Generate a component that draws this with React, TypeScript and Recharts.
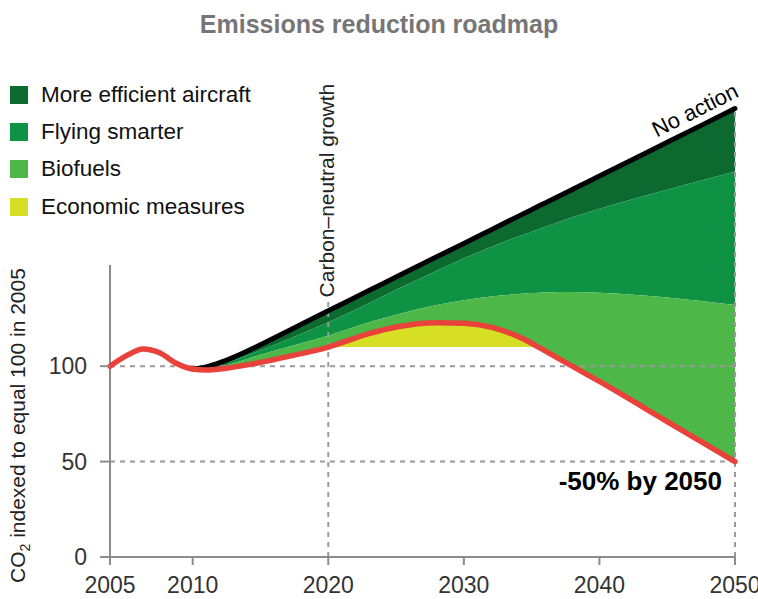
import {
  ComposedChart,
  Area,
  Line,
  XAxis,
  YAxis,
  ReferenceLine,
  ReferenceDot,
  Legend,
} from 'recharts';

const FONT = '"Liberation Sans", Arial, Helvetica, sans-serif';

// sample years (uneven on purpose: more points where the curves bend)
const years = [
  2005, 2006, 2007, 2008, 2009, 2010, 2011, 2012, 2013, 2015, 2017, 2020, 2023, 2025,
  2028, 2030, 2032, 2034, 2035, 2035.5, 2036, 2037, 2038, 2040, 2045, 2050,
];

// red line: emissions path with all measures
const target = [
  100, 105.5, 109, 107, 101.5, 98.5, 98, 98.5, 99.5, 102, 105, 110, 117, 120.5,
  122.8, 122.5, 120.5, 115.5, 112, 110, 108, 104, 100, 92, 71, 50,
];

// black line: no action
const noAction = [
  null, null, null, null, null, 98.5, 99.6, 101.8, 104.6, 111.2, 118.3, 129, 139.6, 146.7,
  157.3, 164.3, 171.4, 178.5, 182, 183.8, 185.5, 189, 192.6, 199.6, 217.3, 235,
];

// lower edge of the "more efficient aircraft" wedge
const aircraftEdge = [
  null, null, null, null, null, 98.5, 99.2, 100.8, 103, 108.3, 114, 123, 133, 140,
  150, 156.5, 162.5, 168, 170.5, 171.8, 173, 175.5, 178, 182.5, 192.5, 202,
];

// lower edge of the "flying smarter" wedge
const smarterEdge = [
  null, null, null, null, null, 98.5, 98.5, 99.5, 101.5, 106, 110, 116, 123, 127,
  132, 134.5, 136.5, 137.8, 138.3, 138.5, 138.6, 138.8, 138.8, 138.5, 136, 132,
];

// economic measures sit on a flat floor from 2020 until the red line drops below it
const economicFloor = [
  null, null, null, null, null, null, null, null, null, null, null, 110, 110, 110,
  110, 110, 110, 110, 110, 110, null, null, null, null, null, null,
];

const xTicks = [2005, 2010, 2020, 2030, 2040, 2050];
const yTicks = [0, 50, 100];

const keyNames = ['More efficient aircraft', 'Flying smarter', 'Biofuels', 'Economic measures'];
const keyColors = ['#0c6a30', '#0e9344', '#4db848', '#d6df24'];

const rows = years.map((year, i) => ({
  year,
  target: target[i],
  noAction: noAction[i],
  aircraft: noAction[i] == null ? null : [aircraftEdge[i], noAction[i]],
  smarter: aircraftEdge[i] == null ? null : [smarterEdge[i], aircraftEdge[i]],
  biofuels: smarterEdge[i] == null ? null : [target[i], smarterEdge[i]],
  economic: economicFloor[i] == null ? null : [economicFloor[i], target[i]],
}));

// Time axis where 2005-2010 gets a wider slot than the later decades.
const EARLY_END = 2010;
const EARLY_SHARE = 0.1323;

function makeTimeScale(dom: number[] = [2005, 2050], rng: number[] = [0, 1]): any {
  const scale: any = (v: number) => {
    const [d0, d1] = dom;
    const [r0, r1] = rng;
    const rk = r0 + (r1 - r0) * EARLY_SHARE;
    if (v <= EARLY_END) return r0 + ((v - d0) / (EARLY_END - d0)) * (rk - r0);
    return rk + ((v - EARLY_END) / (d1 - EARLY_END)) * (r1 - rk);
  };
  scale.domain = (d?: any[]) => {
    if (d === undefined) return dom.slice();
    dom = [Number(d[0]), Number(d[d.length - 1])];
    return scale;
  };
  scale.range = (r?: number[]) => {
    if (r === undefined) return rng.slice();
    rng = [r[0], r[r.length - 1]];
    return scale;
  };
  scale.copy = () => makeTimeScale(dom.slice(), rng.slice());
  scale.ticks = () => xTicks;
  scale.tickFormat = () => (v: number) => String(v);
  return scale;
}

const timeScale = makeTimeScale();

function KeyList() {
  return (
    <div style={{ fontFamily: FONT, fontSize: 22.5, color: '#111' }}>
      {keyNames.map((name, i) => (
        <div key={name} style={{ display: 'flex', alignItems: 'center', height: 37.3 }}>
          <span style={{ width: 18, height: 18, background: keyColors[i], marginRight: 13, display: 'inline-block' }} />
          <span>{name}</span>
        </div>
      ))}
    </div>
  );
}

function NoActionText(props: any) {
  const { x, y } = props.viewBox;
  return (
    <text
      x={x}
      y={y}
      dy={-9}
      transform={`rotate(-26.5 ${x} ${y})`}
      textAnchor="middle"
      fontSize={22}
      fontFamily={FONT}
      fill="#000"
    >
      No action
    </text>
  );
}

function NeutralText(props: any) {
  const { x, y } = props.viewBox;
  const tx = x + 6;
  const ty = y - 2;
  return (
    <text x={tx} y={ty} transform={`rotate(-90 ${tx} ${ty})`} fontSize={21} fontFamily={FONT} fill="#222">
      Carbon–neutral growth
    </text>
  );
}

function HalvingText(props: any) {
  const { x, y } = props.viewBox;
  return (
    <text x={x - 13} y={y + 28} textAnchor="end" fontSize={26} fontWeight={700} fontFamily={FONT} fill="#000">
      -50% by 2050
    </text>
  );
}

function YTitle(props: any) {
  const { viewBox } = props;
  const tx = 25;
  const ty = viewBox.y + viewBox.height + 26;
  return (
    <text x={tx} y={ty} transform={`rotate(-90 ${tx} ${ty})`} fontSize={21} fontFamily={FONT} fill="#222">
      CO<tspan fontSize={14} dy={5}>2</tspan>
      <tspan dy={-5}> indexed to equal 100 in 2005</tspan>
    </text>
  );
}

export default function App() {
  return (
    <div style={{ position: 'absolute', left: 0, top: 0, width: 758, height: 599, background: '#fff' }}>
      <div
        style={{
          position: 'absolute',
          left: 0,
          top: 9,
          width: 758,
          textAlign: 'center',
          fontFamily: FONT,
          fontSize: 25,
          fontWeight: 700,
          lineHeight: '30px',
          color: '#767676',
        }}
      >
        Emissions reduction roadmap
      </div>
      <ComposedChart width={758} height={599} data={rows} margin={{ top: 99, right: 23, bottom: 0, left: 0 }}>
        <XAxis
          dataKey="year"
          type="number"
          scale={timeScale}
          domain={[2005, 2050]}
          ticks={xTicks}
          height={42}
          tickSize={8}
          tickMargin={12}
          stroke="#8c8c8c"
          strokeWidth={2}
          tick={{ fontSize: 23, fill: '#333', fontFamily: FONT }}
        />
        <YAxis
          type="number"
          domain={[0, 240]}
          ticks={yTicks}
          width={110}
          axisLine={false}
          tickSize={10}
          tickMargin={13}
          stroke="#8c8c8c"
          strokeWidth={2}
          tick={{ fontSize: 23, fill: '#333', fontFamily: FONT }}
          label={(p: any) => <YTitle {...p} />}
        />
        <Legend
          layout="vertical"
          align="center"
          verticalAlign="middle"
          content={() => <KeyList />}
          wrapperStyle={{ left: 10, top: 76, width: 320 }}
        />

        <Area dataKey="aircraft" type="monotone" fill={keyColors[0]} fillOpacity={1} stroke="none" isAnimationActive={false} />
        <Area dataKey="smarter" type="monotone" fill={keyColors[1]} fillOpacity={1} stroke="none" isAnimationActive={false} />
        <Area dataKey="biofuels" type="monotone" fill={keyColors[2]} fillOpacity={1} stroke="none" isAnimationActive={false} />
        <Area dataKey="economic" type="monotone" fill={keyColors[3]} fillOpacity={1} stroke="none" isAnimationActive={false} />

        <ReferenceLine y={100} stroke="#9a9a9a" strokeWidth={2} strokeDasharray="5 5" />
        <ReferenceLine y={50} stroke="#9a9a9a" strokeWidth={2} strokeDasharray="5 5" />
        <ReferenceLine
          segment={[{ x: 2020, y: 0 }, { x: 2020, y: 135 }]}
          stroke="#9a9a9a"
          strokeWidth={2}
          strokeDasharray="5 5"
        />
        <ReferenceLine
          segment={[{ x: 2050, y: 0 }, { x: 2050, y: 235 }]}
          stroke="#9a9a9a"
          strokeWidth={2}
          strokeDasharray="5 5"
        />
        <ReferenceLine segment={[{ x: 2005, y: 0 }, { x: 2005, y: 153 }]} stroke="#8c8c8c" strokeWidth={2} />

        <Line
          dataKey="noAction"
          type="monotone"
          stroke="#000"
          strokeWidth={5}
          strokeLinecap="round"
          dot={false}
          activeDot={false}
          isAnimationActive={false}
        />
        <Line
          dataKey="target"
          type="monotone"
          stroke="#e8423b"
          strokeWidth={5.5}
          strokeLinecap="round"
          dot={false}
          activeDot={false}
          isAnimationActive={false}
        />

        <ReferenceDot x={2047.6} y={226.5} r={0} fill="none" stroke="none" label={(p: any) => <NoActionText {...p} />} />
        <ReferenceDot x={2020} y={135} r={0} fill="none" stroke="none" label={(p: any) => <NeutralText {...p} />} />
        <ReferenceDot x={2050} y={50} r={0} fill="none" stroke="none" label={(p: any) => <HalvingText {...p} />} />
      </ComposedChart>
    </div>
  );
}
